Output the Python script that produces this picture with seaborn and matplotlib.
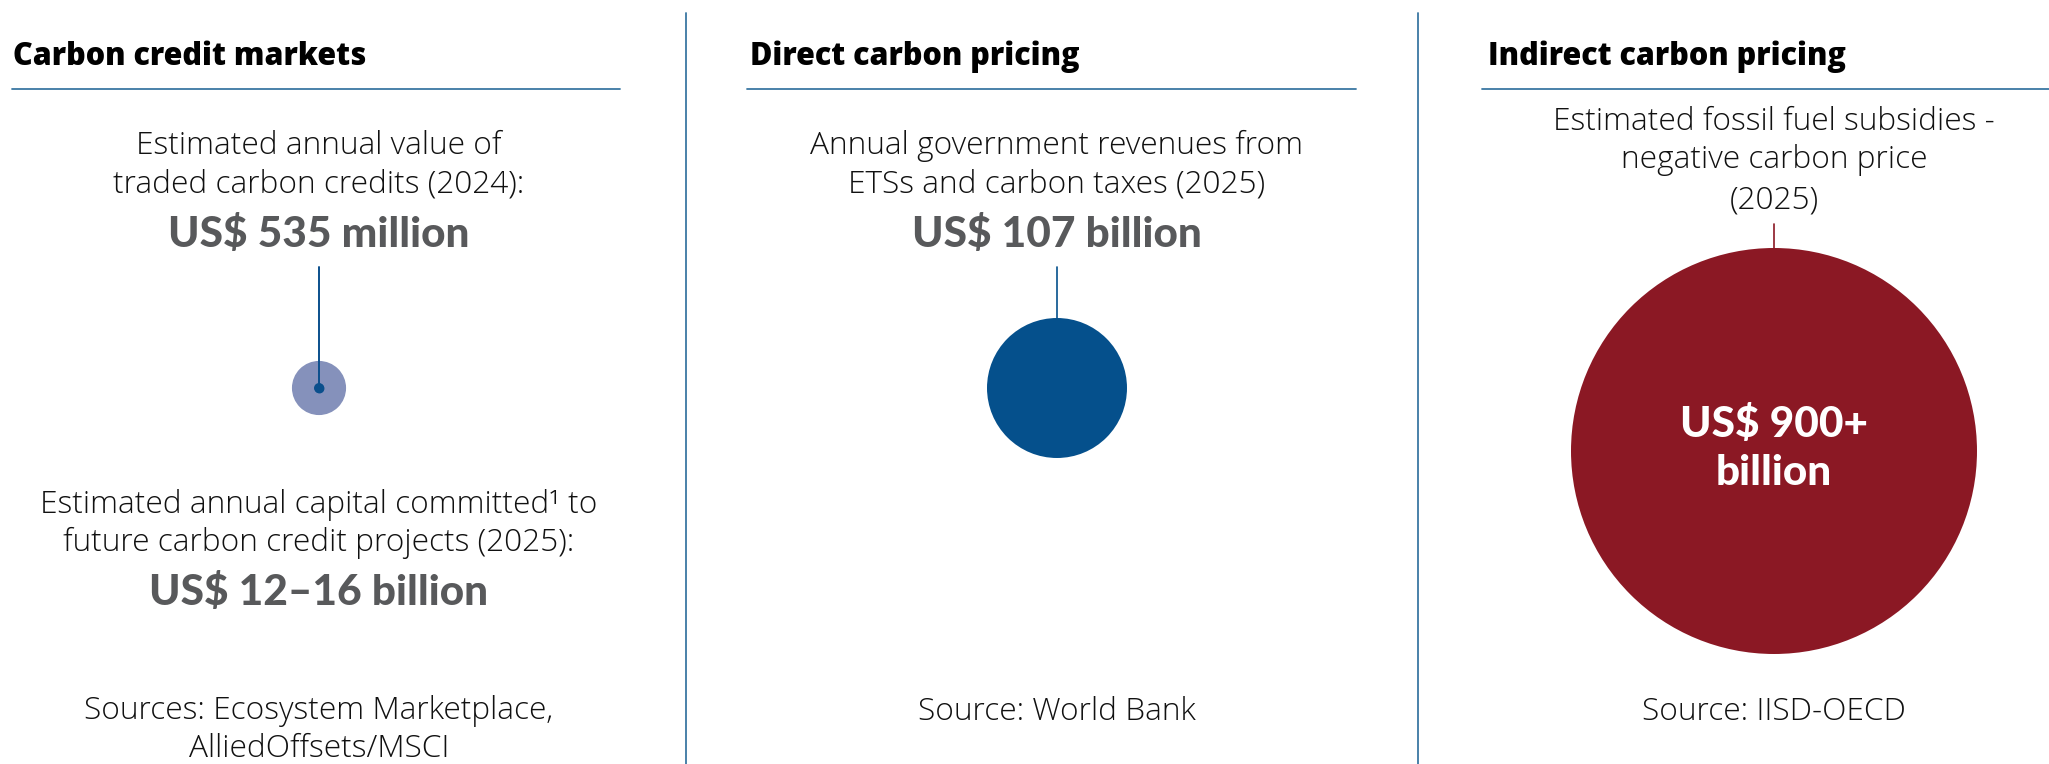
import matplotlib
matplotlib.use("Agg")
import matplotlib.pyplot as plt
import seaborn as sns
import pandas as pd
import numpy as np

# ---- content -------------------------------------------------------------
panel_titles = ["Carbon credit markets", "Direct carbon pricing", "Indirect carbon pricing"]

traded_caption = ["Estimated annual value of", "traded carbon credits (2024):"]
traded_label = "US$ 535 million"
committed_caption = ["Estimated annual capital committed\u00b9 to",
                     "future carbon credit projects (2025):"]
committed_label = "US$ 12\u201316 billion"
credit_sources = ["Sources: Ecosystem Marketplace,", "AlliedOffsets/MSCI"]

direct_caption = ["Annual government revenues from", "ETSs and carbon taxes (2025)"]
direct_label = "US$ 107 billion"
direct_sources = ["Source: World Bank"]

indirect_caption = ["Estimated fossil fuel subsidies -", "negative carbon price", "(2025)"]
indirect_label = ["US$ 900+", "billion"]
indirect_sources = ["Source: IISD-OECD"]

# bubble values, US$ billion
bubble_series = ["committed", "traded", "direct", "indirect"]
bubble_values = [16.0, 0.535, 107.0, 900.0]

# ---- style ---------------------------------------------------------------
W, H, DPI = 2049, 764, 100
sns.set_theme(style="white")
plt.rcParams["font.family"] = ["Open Sans", "DejaVu Sans"]

RULE = "#3a77a3"
TEXT = "#111111"
VALUE_GREY = "#58595b"
palette = {"committed": "#8591bb", "traded": "#0a4f8c",
           "direct": "#05508c", "indirect": "#8b1824"}

fig = plt.figure(figsize=(W / DPI, H / DPI), dpi=DPI)
ax = fig.add_axes([0, 0, 1, 1])
ax.set_xlim(0, W)
ax.set_ylim(H, 0)
ax.axis("off")

# bubble area proportional to value: the largest bubble gets radius R_MAX px
R_MAX = 203.0
V_MAX = max(bubble_values)


def radius_px(v):
    return R_MAX * np.sqrt(v / V_MAX)


area_max = (2 * R_MAX * 72.0 / DPI) ** 2  # marker area in pt^2

# panel layout (pixels)
centers = [319, 1057, 1774]
title_x = [13, 750, 1488]
rule_x = [(12, 620), (747, 1356), (1482, W)]
dividers = [686, 1418]
ROW_Y = 388           # centre line of the first two bubbles
TOP3 = 248            # hanging point of the third bubble

bubble_y = {
    "committed": ROW_Y,
    "traded": ROW_Y,
    "direct": ROW_Y,
    "indirect": TOP3 + radius_px(900.0),
}
bubble_x = {"committed": centers[0], "traded": centers[0],
            "direct": centers[1], "indirect": centers[2]}

df = pd.DataFrame({"series": bubble_series, "value": bubble_values})
df["x"] = df["series"].map(bubble_x)
df["y"] = df["series"].map(bubble_y)

# connectors drawn beneath the bubbles
ax.plot([centers[0], centers[0]], [267, ROW_Y], color=palette["traded"], lw=1.4, zorder=3)
r_direct = radius_px(107.0)
ax.plot([centers[1], centers[1]], [267, ROW_Y - r_direct], color=palette["direct"], lw=1.2, zorder=1)
ax.plot([centers[2], centers[2]], [224, TOP3], color=palette["indirect"], lw=1.2, zorder=1)

sns.scatterplot(data=df, x="x", y="y", hue="series", palette=palette,
                size="value", sizes=(0, area_max), size_norm=(0, V_MAX),
                linewidth=0, alpha=1, legend=False, ax=ax, zorder=2)
# centre dot of the traded-credits bubble on top of the connector
dot = df[df["series"] == "traded"]
sns.scatterplot(data=dot, x="x", y="y", color=palette["traded"],
                size="value", sizes=(0, area_max), size_norm=(0, V_MAX),
                linewidth=0, legend=False, ax=ax, zorder=4)
ax.set_xlim(0, W)
ax.set_ylim(H, 0)

# ---- frame: titles, rules, dividers ---------------------------------------
for t, tx, (x0, x1) in zip(panel_titles, title_x, rule_x):
    ax.text(tx, 65, t, fontsize=22, fontweight="heavy", color="#000000",
            ha="left", va="baseline")
    ax.plot([x0, x1], [89, 89], color=RULE, lw=1.3)
for dx in dividers:
    ax.plot([dx, dx], [13, H], color=RULE, lw=1.3)


def lines(x, baselines, texts, **kw):
    for yb, s in zip(baselines, texts):
        ax.text(x, yb, s, ha="center", va="baseline", **kw)


body = dict(fontsize=22.8, fontweight="light", color=TEXT)
value = dict(fontsize=30.5, fontweight="black", color=VALUE_GREY,
             family=["Lato", "DejaVu Sans"])

# panel 1
lines(centers[0], [154, 193], traded_caption, **body)
lines(centers[0], [247], [traded_label], **value)
lines(centers[0], [513, 551], committed_caption, **body)
lines(centers[0], [605], [committed_label], **value)
lines(centers[0], [719, 757], credit_sources, **body)

# panel 2
lines(centers[1], [154, 192], direct_caption, **body)
lines(centers[1], [247], [direct_label], **value)
lines(centers[1], [720], direct_sources, **body)

# panel 3
lines(centers[2], [130, 168, 208], indirect_caption, **body)
lines(centers[2], [437, 485], indirect_label, fontsize=30.5, fontweight="black",
      color="white", family=["Lato", "DejaVu Sans"])
lines(centers[2], [720], indirect_sources, **body)

fig.savefig("out.png", dpi=DPI, facecolor="white")
